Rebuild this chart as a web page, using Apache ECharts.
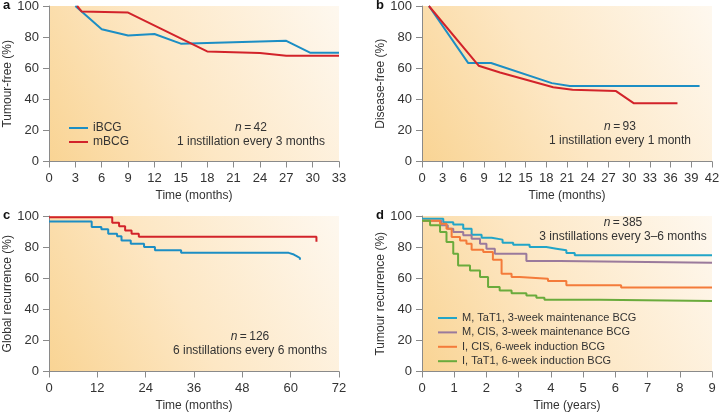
<!DOCTYPE html>
<html>
<head>
<meta charset="utf-8">
<script src="https://cdn.jsdelivr.net/npm/echarts@6/dist/echarts.min.js"></script>
<style>
  html, body { margin: 0; padding: 0; background: #fff; }
  #main { width: 720px; height: 413px; }
</style>
</head>
<body>
<div id="main"></div>
<script>
// panel a: tumour-free, 1 instillation every 3 months
var aTicks = [0, 3, 6, 9, 12, 15, 18, 21, 24, 27, 30, 33];
var aIbcgT = [3, 6, 9, 12, 15, 27, 29.7, 33];
var aIbcgV = [100, 85, 81, 82, 75.8, 77.6, 70, 70];
var aMbcgT = [3.2, 3.7, 9, 18, 24, 27, 33];
var aMbcgV = [100, 96.5, 95.8, 70.8, 69.8, 68, 68];

// panel b: disease-free, 1 instillation every 1 month
var bBlueT = [1, 6.7, 10, 18.8, 21.4, 40.2];
var bBlueV = [100, 63.3, 63.3, 50.4, 48.6, 48.6];
var bRedT = [1, 8.2, 11.3, 19, 21.8, 28.1, 30.7, 37];
var bRedV = [100, 61.6, 57.2, 47.8, 46.2, 45.3, 37.4, 37.4];

// panel c: global recurrence, 6 instillations every 6 months (step curves)
var cBlueT = [0, 10.6, 13, 14.7, 16.9, 18, 20.3, 23.6, 26.3, 32.8, 59.5, 60.8, 61.6, 62.3];
var cBlueV = [96.5, 92.9, 91.4, 88.6, 86.9, 84.3, 82.2, 80, 77.9, 76.3, 75.2, 74.1, 73, 71.8];
var cRedT = [0, 15.7, 17.4, 18.9, 20.5, 22.3, 66.4];
var cRedV = [99.2, 95.6, 93.4, 90.7, 88.6, 86.6, 83.5];

// panel d: tumour recurrence, 3 instillations every 3-6 months (step curves)
var dTealT = [0, 0.66, 0.97, 1.28, 1.54, 1.85, 2.16, 2.5, 2.83, 3.34, 3.86, 4.17, 4.48, 4.74, 9];
var dTealV = [98.3, 96, 94.6, 91.8, 88, 86, 84.8, 82.8, 81.5, 80, 79, 78, 76.2, 74.7, 74.7];
var dPurpleT = [0, 0.6, 0.8, 0.97, 1.28, 1.54, 1.8, 2.0, 2.26, 3.24, 4.27, 9];
var dPurpleV = [97, 94, 91.8, 89.7, 87.6, 85.4, 82.2, 79, 75.8, 71, 69.9, 69.9];
var dOrangeT = [0, 0.56, 0.76, 0.92, 1.18, 1.38, 1.54, 1.9, 2.2, 2.47, 2.78, 3.03, 3.91, 4.48, 6.18, 9];
var dOrangeV = [97, 95, 91.8, 86.5, 84.3, 82.2, 78.3, 76.8, 71.9, 62.9, 60.7, 59.7, 58.2, 55.5, 54, 54];
var dGreenT = [0, 0.25, 0.56, 0.76, 0.97, 1.12, 1.49, 1.8, 2.05, 2.41, 2.78, 3.24, 3.55, 3.8, 5.51, 9];
var dGreenV = [97, 94, 89.7, 83.3, 75.8, 68.2, 65, 60.7, 54.3, 52.1, 50.4, 48.9, 47.4, 46.1, 45.3, 45.2];

var legendA = ['iBCG', 'mBCG'];
var legendD = ['M, TaT1, 3-week maintenance BCG', 'M, CIS, 3-week maintenance BCG',
  'I, CIS, 6-week induction BCG', 'I, TaT1, 6-week induction BCG'];

var BLUE = '#1c8ec4', RED = '#d2232a';
var TEAL = '#22a5c8', PURPLE = '#9a7a9c', ORANGE = '#f47b3a', GREEN = '#6aab3c';
var FONT = 'Liberation Sans';

function pairs(t, v) {
  return t.map(function (x, i) { return [x, v[i]]; });
}

var bg = {
  type: 'linear', x: 0, y: 1, x2: 1, y2: 0,
  colorStops: [
    { offset: 0, color: '#f9d494' },
    { offset: 0.45, color: '#fde7c4' },
    { offset: 1, color: '#fef8ef' }
  ]
};

function grid(left, top) {
  return {
    left: left, top: top, width: 290, height: 155.5,
    show: true, backgroundColor: bg, borderWidth: 0,
    containLabel: false, outerBoundsMode: 'none'
  };
}

var axisLine = { show: true, lineStyle: { color: '#8a8a8a', width: 1 } };
var axisTick = { show: true, length: 6, inside: false, lineStyle: { color: '#8a8a8a' } };
var tickLabel = { color: '#333', fontSize: 13, fontFamily: FONT, showMinLabel: true, showMaxLabel: true, hideOverlap: false };

function xAxis(idx, max, interval, name) {
  return {
    type: 'value', gridIndex: idx, min: 0, max: max, interval: interval,
    name: name, nameLocation: 'middle', nameGap: 28,
    nameTextStyle: { color: '#333', fontSize: 12, fontFamily: FONT },
    axisLine: axisLine, axisTick: axisTick, splitLine: { show: false },
    axisLabel: Object.assign({ margin: 10 }, tickLabel)
  };
}
function yAxis(idx, name, gap) {
  return {
    type: 'value', gridIndex: idx, min: 0, max: 100, interval: 20,
    name: name, nameLocation: 'middle', nameGap: gap, nameRotate: 90,
    nameTextStyle: { color: '#333', fontSize: 12, fontFamily: FONT },
    axisLine: axisLine, axisTick: axisTick, splitLine: { show: false },
    axisLabel: Object.assign({ margin: 10 }, tickLabel)
  };
}

function line(name, idx, t, v, color, step) {
  return {
    name: name, type: 'line', xAxisIndex: idx, yAxisIndex: idx,
    data: pairs(t, v), step: step ? 'end' : false,
    showSymbol: false, symbol: 'none', silent: true,
    lineStyle: { color: color, width: 2 }, itemStyle: { color: color },
    z: 3
  };
}

function note(x, y, n, txt) {
  return [{
    type: 'text', x: x, y: y,
    style: {
      text: '{i|n}\u2009=\u2009' + n, align: 'center', verticalAlign: 'middle',
      fill: '#333', fontSize: 12, fontFamily: FONT,
      rich: { i: { fontStyle: 'italic', fontSize: 12, fontFamily: FONT, fill: '#333' } }
    }
  }, {
    type: 'text', x: x, y: y + 14,
    style: { text: txt, align: 'center', verticalAlign: 'middle', fill: '#333', fontSize: 12, fontFamily: FONT }
  }];
}
function letter(x, y, s) {
  return {
    type: 'text', x: x, y: y,
    style: { text: s, fill: '#111', fontSize: 13, fontWeight: 'bold', fontFamily: FONT, verticalAlign: 'middle' }
  };
}

var chart = echarts.init(document.getElementById('main'), null, { renderer: 'canvas' });

var option = {
  animation: false,
  backgroundColor: '#fff',
  grid: [grid(49, 6), grid(422, 6), grid(49, 216), grid(422, 216)],
  xAxis: [
    xAxis(0, 33, 3, 'Time (months)'),
    xAxis(1, 42, 3, 'Time (months)'),
    xAxis(2, 72, 12, 'Time (months)'),
    xAxis(3, 9, 1, 'Time (years)')
  ],
  yAxis: [
    yAxis(0, 'Tumour-free (%)', 31),
    yAxis(1, 'Disease-free (%)', 34),
    yAxis(2, 'Global recurrence (%)', 31),
    yAxis(3, 'Tumour recurrence (%)', 35)
  ],
  legend: [{
    data: legendA, left: 69, top: 121, orient: 'vertical', padding: 0,
    icon: 'rect', itemWidth: 19, itemHeight: 2, itemGap: 0,
    textStyle: { color: '#333', fontSize: 12, fontFamily: FONT, lineHeight: 14 },
    selectedMode: false
  }, {
    data: legendD, left: 438, top: 311, orient: 'vertical', padding: 0,
    icon: 'rect', itemWidth: 19, itemHeight: 2, itemGap: 0.4,
    textStyle: { color: '#333', fontSize: 11, fontFamily: FONT, lineHeight: 14 },
    selectedMode: false
  }],
  series: [
    line('iBCG', 0, aIbcgT, aIbcgV, BLUE, false),
    line('mBCG', 0, aMbcgT, aMbcgV, RED, false),
    line('b-blue', 1, bBlueT, bBlueV, BLUE, false),
    line('b-red', 1, bRedT, bRedV, RED, false),
    line('c-blue', 2, cBlueT, cBlueV, BLUE, true),
    line('c-red', 2, cRedT, cRedV, RED, true),
    line(legendD[0], 3, dTealT, dTealV, TEAL, true),
    line(legendD[1], 3, dPurpleT, dPurpleV, PURPLE, true),
    line(legendD[2], 3, dOrangeT, dOrangeV, ORANGE, true),
    line(legendD[3], 3, dGreenT, dGreenV, GREEN, true)
  ],
  graphic: [].concat(
    note(251, 128, 42, '1 instillation every 3 months'),
    note(620, 127, 93, '1 instillation every 1 month'),
    note(250, 337, 126, '6 instillations every 6 months'),
    note(623, 223, 385, '3 instillations every 3\u20136 months'),
    [letter(3, 5, 'a'), letter(376, 5, 'b'), letter(3, 215, 'c'), letter(376, 215, 'd')]
  )
};

chart.setOption(option);
</script>
</body>
</html>
